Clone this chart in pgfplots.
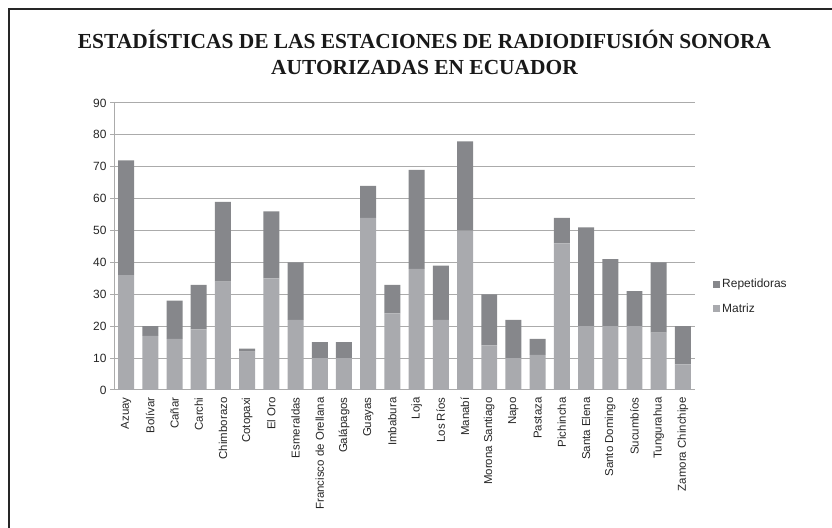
\documentclass[border=0pt]{standalone}
\usepackage{fontspec}
\setmainfont{Liberation Sans}
\newfontfamily\titlefont{Liberation Serif}
\usepackage{pgfplots}
\pgfplotsset{compat=1.18}
\definecolor{matriz}{HTML}{A9AAAE}
\definecolor{repet}{HTML}{86878B}
\definecolor{gridc}{HTML}{ABABAB}
\definecolor{txt}{HTML}{262626}
\begin{document}
\begin{tikzpicture}[x=1bp,y=1bp]
\path[use as bounding box] (0,0) rectangle (832,528);
\draw[line width=2.5bp, color=black!85] (9,-3) -- (9,519) -- (835,519);
\node[font=\titlefont\bfseries\fontsize{21.5}{24}\selectfont, anchor=base, text=black!90] at (424.5,479) {ESTADÍSTICAS DE LAS ESTACIONES DE RADIODIFUSIÓN SONORA};
\node[font=\titlefont\bfseries\fontsize{21.5}{24}\selectfont, anchor=base, text=black!90] at (424.5,453) {AUTORIZADAS EN ECUADOR};
\begin{axis}[
  at={(114bp,138bp)}, anchor=south west,
  scale only axis, width=581bp, height=287bp,
  ybar stacked, bar width=0.66,
  xmin=-0.5, xmax=23.5, ymin=0, ymax=90,
  ytick={0,10,...,90},
  xtick={0,...,23},
  xticklabels={Azuay, Bolívar, Cañar, Carchi, Chimborazo, Cotopaxi, El Oro, Esmeraldas, Francisco de Orellana, Galápagos, Guayas, Imbabura, Loja, Los Ríos, Manabí, Morona Santiago, Napo, Pastaza, Pichincha, Santa Elena, Santo Domingo, Sucumbíos, Tungurahua, Zamora Chinchipe},
  x tick label style={rotate=90, anchor=east, font=\fontsize{11.5}{14}\selectfont, text=txt},
  y tick label style={font=\fontsize{12}{14}\selectfont, text=txt},
  /pgf/number format/assume math mode=true,
  xtick style={draw=none},
  ytick style={draw=gridc, line width=1bp},
  tick align=outside, major tick length=4bp,
  axis lines*=left,
  axis line style={draw=gridc, line width=1bp, -},
  ymajorgrids, grid style={draw=gridc, line width=1bp},
  reverse legend,
  legend style={at={(1.031,0.326)}, anchor=west, draw=none, fill=none,
    font=\fontsize{12}{14}\selectfont, text=txt, row sep=10bp,
    inner sep=0pt},
  legend cell align=left,
  legend image code/.code={\fill[#1] (0bp,-3.5bp) rectangle (7bp,3.5bp);},
]
\addplot[fill=matriz, draw=none] coordinates {(0,36) (1,17) (2,16) (3,19) (4,34) (5,12) (6,35) (7,22) (8,10) (9,10) (10,54) (11,24) (12,38) (13,22) (14,50) (15,14) (16,10) (17,11) (18,46) (19,20) (20,20) (21,20) (22,18) (23,8)};
\addlegendentry{Matriz}
\addplot[fill=repet, draw=none] coordinates {(0,36) (1,3) (2,12) (3,14) (4,25) (5,1) (6,21) (7,18) (8,5) (9,5) (10,10) (11,9) (12,31) (13,17) (14,28) (15,16) (16,12) (17,5) (18,8) (19,31) (20,21) (21,11) (22,22) (23,12)};
\addlegendentry{Repetidoras}
\end{axis}
\end{tikzpicture}
\end{document}
